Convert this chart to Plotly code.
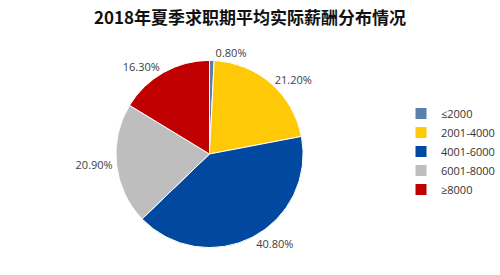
import plotly.graph_objects as go

categories = ["≤2000", "2001-4000", "4001-6000", "6001-8000", "≥8000"]
values = [0.8, 21.2, 40.8, 20.9, 16.3]
colors = ["#5A80AC", "#FFC907", "#0048A0", "#BEBEBE", "#C00000"]
title = "2018年夏季求职期平均实际薪酬分布情况"

fig = go.Figure(go.Pie(
    labels=categories,
    values=values,
    text=[f"{v:.2f}%" for v in values],
    textinfo="text",
    textposition="outside",
    sort=False,
    direction="clockwise",
    rotation=0,
    marker=dict(colors=colors, line=dict(color="white", width=1)),
    textfont=dict(family="Open Sans, Noto Sans, sans-serif", size=11, color="#404040"),
    domain=dict(x=[0.2445, 0.6395], y=[0.081, 0.799]),
    showlegend=True,
))

fig.update_layout(
    width=500, height=275,
    margin=dict(l=0, r=0, t=0, b=0),
    paper_bgcolor="white",
    plot_bgcolor="white",
    title=dict(text=f"<b>{title}</b>", x=0.5, xanchor="center", y=0.935, yanchor="middle",
               font=dict(family="Noto Sans CJK SC", size=17, color="#111111")),
    legend=dict(x=0.846, y=0.64, xanchor="left", yanchor="top",
                font=dict(family="Open Sans, Noto Sans, sans-serif", size=11, color="#333333"),
                itemwidth=30, tracegroupgap=0),
)

fig.write_html("out.html")
